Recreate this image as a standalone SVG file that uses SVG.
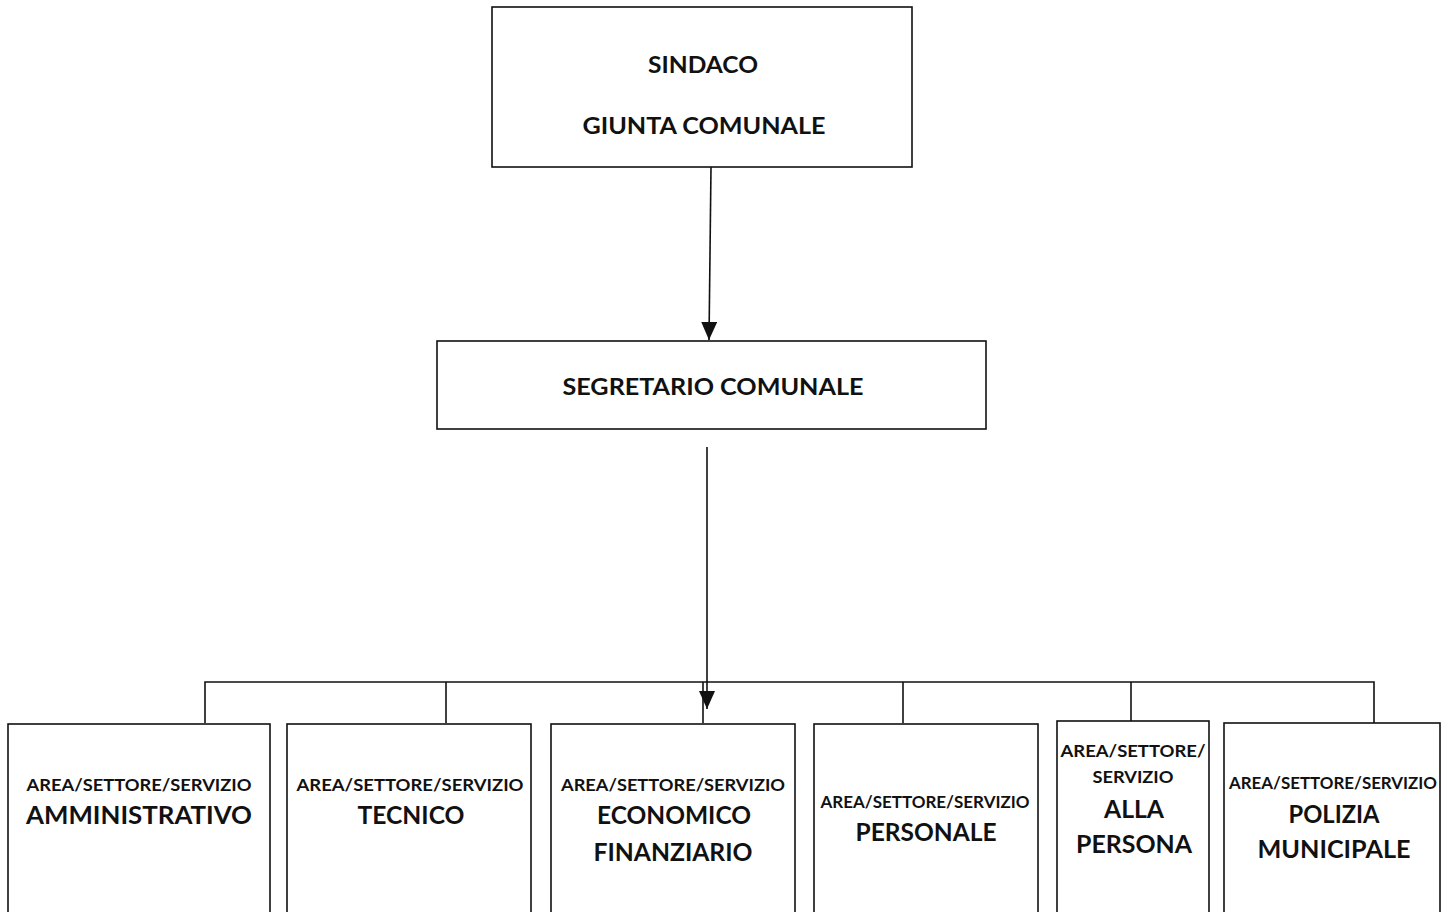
<svg xmlns="http://www.w3.org/2000/svg" width="1449" height="912" viewBox="0 0 1449 912">
<style>
.box{fill:#fff;stroke:#111;stroke-width:1.6}
.ln{fill:none;stroke:#111;stroke-width:1.6}
text{font-family:Lato,"Open Sans","Liberation Sans",sans-serif;font-weight:bold;fill:#111;text-anchor:middle;dominant-baseline:central}
.s{font-size:17px}
.l{font-size:25px}
.m{font-size:23px}
</style>
<defs>
<marker id="ah" viewBox="0 0 10 10" refX="10" refY="5" markerWidth="10" markerHeight="10" markerUnits="userSpaceOnUse" orient="auto">
<path d="M0,0 L10,5 L0,10 z" fill="#111"/>
</marker>
<marker id="ah2" viewBox="0 0 18 16" refX="18" refY="8" markerWidth="18" markerHeight="16" markerUnits="userSpaceOnUse" orient="auto">
<path d="M0,0 L18,8 L0,16 z" fill="#111"/>
</marker>
</defs>
<rect width="1449" height="912" fill="#fff"/>
<g id="connectors">
<line class="ln" x1="711" y1="167" x2="709" y2="340" marker-end="url(#ah2)"/>
<line class="ln" x1="707" y1="447" x2="707" y2="709" marker-end="url(#ah2)"/>
<polyline class="ln" points="205,723 205,682 1374,682 1374,723"/>
<line class="ln" x1="446" y1="682" x2="446" y2="723"/>
<line class="ln" x1="703" y1="682" x2="703" y2="723"/>
<line class="ln" x1="903" y1="682" x2="903" y2="723"/>
<line class="ln" x1="1131" y1="682" x2="1131" y2="721"/>
</g>
<g id="sindaco">
<rect class="box" x="492" y="7" width="420" height="160"/>
<text class="m" x="703" y="64" textLength="110" lengthAdjust="spacingAndGlyphs">SINDACO</text>
<text class="m" x="704" y="125" textLength="243" lengthAdjust="spacingAndGlyphs">GIUNTA COMUNALE</text>
</g>
<g id="segretario">
<rect class="box" x="437" y="341" width="549" height="88"/>
<text class="m" x="713" y="386" textLength="301" lengthAdjust="spacingAndGlyphs">SEGRETARIO COMUNALE</text>
</g>
<g id="amministrativo">
<rect class="box" x="8" y="724" width="262" height="200"/>
<text class="s" x="139" y="784" textLength="225" lengthAdjust="spacingAndGlyphs">AREA/SETTORE/SERVIZIO</text>
<text class="l" x="139" y="814" textLength="226" lengthAdjust="spacingAndGlyphs">AMMINISTRATIVO</text>
</g>
<g id="tecnico">
<rect class="box" x="287" y="724" width="244" height="200"/>
<text class="s" x="410" y="784" textLength="227" lengthAdjust="spacingAndGlyphs">AREA/SETTORE/SERVIZIO</text>
<text class="l" x="411" y="814" textLength="107" lengthAdjust="spacingAndGlyphs">TECNICO</text>
</g>
<g id="economico">
<rect class="box" x="551" y="724" width="244" height="200"/>
<text class="s" x="673" y="784" textLength="224" lengthAdjust="spacingAndGlyphs">AREA/SETTORE/SERVIZIO</text>
<text class="l" x="674" y="814" textLength="154" lengthAdjust="spacingAndGlyphs">ECONOMICO</text>
<text class="l" x="673" y="851" textLength="159" lengthAdjust="spacingAndGlyphs">FINANZIARIO</text>
</g>
<g id="personale">
<rect class="box" x="814" y="724" width="224" height="200"/>
<text class="s" x="925" y="801" textLength="209" lengthAdjust="spacingAndGlyphs">AREA/SETTORE/SERVIZIO</text>
<text class="l" x="926" y="831" textLength="141" lengthAdjust="spacingAndGlyphs">PERSONALE</text>
</g>
<g id="persona">
<rect class="box" x="1057" y="721" width="152" height="200"/>
<text class="s" x="1133" y="750" textLength="145" lengthAdjust="spacingAndGlyphs">AREA/SETTORE/</text>
<text class="s" x="1133" y="776" textLength="81" lengthAdjust="spacingAndGlyphs">SERVIZIO</text>
<text class="l" x="1134" y="808" textLength="60" lengthAdjust="spacingAndGlyphs">ALLA</text>
<text class="l" x="1134" y="843" textLength="116" lengthAdjust="spacingAndGlyphs">PERSONA</text>
</g>
<g id="polizia">
<rect class="box" x="1224" y="723" width="216" height="200"/>
<text class="s" x="1333" y="782" textLength="208" lengthAdjust="spacingAndGlyphs">AREA/SETTORE/SERVIZIO</text>
<text class="l" x="1334" y="813" textLength="91" lengthAdjust="spacingAndGlyphs">POLIZIA</text>
<text class="l" x="1334" y="848" textLength="153" lengthAdjust="spacingAndGlyphs">MUNICIPALE</text>
</g>
</svg>
